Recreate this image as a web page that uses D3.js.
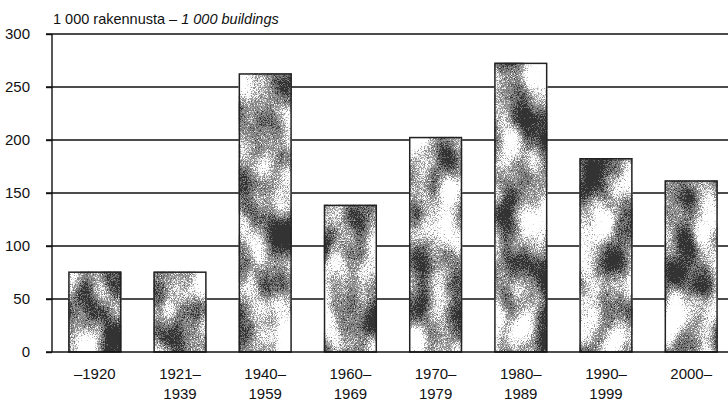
<!DOCTYPE html>
<html>
<head>
<meta charset="utf-8">
<script src="https://cdn.jsdelivr.net/npm/d3@7"></script>
<style>
  html, body { margin: 0; padding: 0; background: #fff; }
  svg { display: block; font-family: "Liberation Sans", Arial, sans-serif; }
</style>
</head>
<body>
<svg id="chart" width="728" height="409"></svg>
<script>
// Buildings by year of construction, thousands
const periods = ["–1920", "1921–1939", "1940–1959", "1960–1969", "1970–1979", "1980–1989", "1990–1999", "2000–"];
const periodLines = [["–1920"], ["1921–", "1939"], ["1940–", "1959"], ["1960–", "1969"], ["1970–", "1979"], ["1980–", "1989"], ["1990–", "1999"], ["2000–"]];
const buildings = [76, 76, 263, 139, 203, 273, 183, 162];
const yTicks = [0, 50, 100, 150, 200, 250, 300];
const titleFi = "1 000 rakennusta – ";
const titleEn = "1 000 buildings";

const svg = d3.select("#chart");
const margin = { top: 34, left: 52, bottom: 57 };
const plotW = 682;
const H = 409;

const x = d3.scaleBand().domain(periods).range([margin.left, margin.left + plotW]).paddingInner(0.375).paddingOuter(0.19);
const y = d3.scaleLinear().domain([0, 300]).range([H - margin.bottom, margin.top]);

// grainy halftone fill for the bars: dithered grey screen with pale clouds
const defs = svg.append("defs");
buildings.forEach((v, i) => {
  const f = defs.append("filter").attr("id", "grain" + i)
    .attr("x", 0).attr("y", 0).attr("width", 1).attr("height", 1)
    .attr("color-interpolation-filters", "sRGB");
  f.append("feTurbulence").attr("type", "fractalNoise").attr("baseFrequency", "0.03 0.02")
    .attr("numOctaves", 2).attr("seed", 5 + i * 11).attr("result", "blob");
  f.append("feColorMatrix").attr("in", "blob").attr("type", "matrix")
    .attr("values", "1 0 0 0 0  1 0 0 0 0  1 0 0 0 0  0 0 0 0 1").attr("result", "blobG");
  f.append("feTurbulence").attr("type", "fractalNoise").attr("baseFrequency", 1.3)
    .attr("numOctaves", 1).attr("seed", 40 + i).attr("result", "fine");
  f.append("feColorMatrix").attr("in", "fine").attr("type", "matrix")
    .attr("values", "1 0 0 0 0  1 0 0 0 0  1 0 0 0 0  0 0 0 0 1").attr("result", "fineG");
  f.append("feComposite").attr("in", "blobG").attr("in2", "fineG").attr("operator", "arithmetic")
    .attr("k1", 0).attr("k2", 2.5).attr("k3", 1.4).attr("k4", -1.45).attr("result", "mix");
  const ct = f.append("feComponentTransfer").attr("in", "mix").attr("result", "tone");
  ["R", "G", "B"].forEach(c => ct.append("feFunc" + c).attr("type", "discrete")
    .attr("tableValues", "0.2 0.35 0.45 0.52 0.58 0.66 0.85 0.97 1 1"));
  ct.append("feFuncA").attr("type", "linear").attr("slope", 0).attr("intercept", 1);
  f.append("feComposite").attr("in", "tone").attr("in2", "SourceGraphic").attr("operator", "in");
});

// gridlines with small ticks left of the axis
svg.append("g")
  .selectAll("line")
  .data(yTicks.filter(d => d > 0))
  .join("line")
  .attr("x1", margin.left - 6).attr("x2", margin.left + plotW)
  .attr("y1", d => y(d)).attr("y2", d => y(d))
  .attr("stroke", "#111").attr("stroke-width", 1.4);

// bars
const bars = svg.append("g");
bars.selectAll("rect.fill")
  .data(buildings)
  .join("rect")
  .attr("class", "fill")
  .attr("x", (d, i) => x(periods[i]))
  .attr("y", d => y(d))
  .attr("width", x.bandwidth())
  .attr("height", d => y(0) - y(d))
  .attr("fill", "#888")
  .attr("filter", (d, i) => `url(#grain${i})`);
bars.selectAll("rect.edge")
  .data(buildings)
  .join("rect")
  .attr("class", "edge")
  .attr("x", (d, i) => x(periods[i]) + 0.75)
  .attr("y", d => y(d) + 0.75)
  .attr("width", x.bandwidth() - 1.5)
  .attr("height", d => y(0) - y(d) - 0.75)
  .attr("fill", "none")
  .attr("stroke", "#222").attr("stroke-width", 1.5);

// y axis
const yAxis = svg.append("g")
  .attr("transform", `translate(${margin.left},0)`)
  .call(d3.axisLeft(y).tickValues(yTicks).tickSize(6).tickPadding(16));
yAxis.select(".domain").attr("stroke", "#111").attr("stroke-width", 1.4).attr("d", `M0,${y(300)}V${y(0)}`);
yAxis.selectAll(".tick line").attr("stroke", "#111").attr("stroke-width", 1.4);
yAxis.selectAll(".tick text").attr("font-size", 15).attr("fill", "#111")
  .attr("font-family", "'Liberation Sans', Arial, sans-serif");

// baseline
svg.append("line")
  .attr("x1", margin.left - 6).attr("x2", margin.left + plotW)
  .attr("y1", y(0)).attr("y2", y(0))
  .attr("stroke", "#111").attr("stroke-width", 1.4);

// category labels
const xl = svg.append("g").attr("font-size", 15).attr("fill", "#111").attr("text-anchor", "middle");
periodLines.forEach((lines, i) => {
  const cx = x(periods[i]) + x.bandwidth() / 2;
  lines.forEach((t, j) => {
    xl.append("text").attr("x", cx).attr("y", y(0) + 27 + j * 20).text(t);
  });
});

// title
const title = svg.append("text").attr("x", margin.left + 1).attr("y", 24).attr("font-size", 14.5).attr("fill", "#111");
title.append("tspan").text(titleFi);
title.append("tspan").attr("font-style", "italic").text(titleEn);
</script>
</body>
</html>
